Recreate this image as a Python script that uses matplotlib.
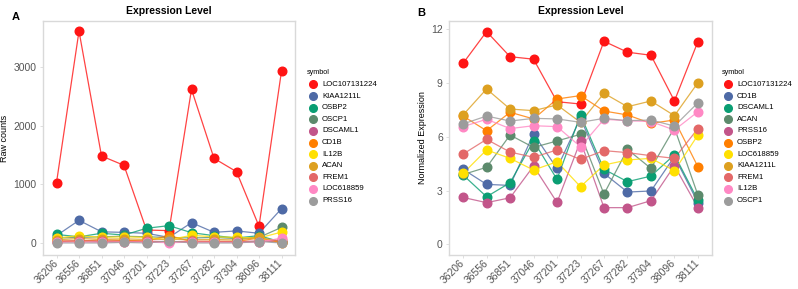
import matplotlib
matplotlib.use("Agg")
import matplotlib.pyplot as plt
import matplotlib.transforms as mtransforms
from matplotlib.lines import Line2D

plt.rcParams['font.family'] = ['Liberation Sans', 'DejaVu Sans']

# sample ids on the x axis (same for both panels)
samples = ["36206", "36556", "36851", "37046", "37201", "37223",
           "37267", "37282", "37304", "38096", "38111"]

# shared colour order used by both legends
palette = ["#FF1414", "#4E6AA6", "#0A9E73", "#5C8A6C", "#C2558A", "#FF7F00",
           "#FFE000", "#DDA020", "#E36868", "#FF88C4", "#9C9C9C"]

# Panel A - raw counts
genes_a = ["LOC107131224", "KIAA1211L", "OSBP2", "OSCP1", "DSCAML1", "CD1B",
           "IL12B", "ACAN", "FREM1", "LOC618859", "PRSS16"]
loc107131224_a = [1030, 3605, 1483, 1324, 225, 215, 2615, 1443, 1216, 290, 2925]
kiaa1211l_a = [130, 390, 195, 185, 170, 100, 350, 186, 210, 170, 588]
osbp2_a = [150, 110, 170, 140, 255, 300, 180, 130, 90, 130, 20]
oscp1_a = [90, 100, 110, 120, 110, 100, 90, 100, 80, 100, 270]
dscaml1_a = [30, 40, 35, 45, 30, 30, 25, 30, 25, 40, 20]
cd1b_a = [40, 35, 60, 50, 40, 130, 30, 35, 30, 90, 10]
il12b_a = [90, 130, 100, 110, 100, 60, 135, 110, 100, 90, 190]
acan_a = [60, 80, 70, 75, 65, 70, 60, 65, 55, 100, 30]
frem1_a = [30, 45, 35, 30, 35, 25, 35, 30, 30, 30, 60]
loc618859_a = [15, 20, 15, 20, 20, 10, 20, 15, 15, 15, 90]
prss16_a = [5, 5, 5, 15, 5, 40, 5, 5, 5, 30, 5]
values_a = [loc107131224_a, kiaa1211l_a, osbp2_a, oscp1_a, dscaml1_a, cd1b_a,
            il12b_a, acan_a, frem1_a, loc618859_a, prss16_a]

# Panel B - normalized expression
genes_b = ["LOC107131224", "CD1B", "DSCAML1", "ACAN", "PRSS16", "OSBP2",
           "LOC618859", "KIAA1211L", "FREM1", "IL12B", "OSCP1"]
loc107131224_b = [10.10, 11.87, 10.47, 10.33, 7.96, 7.83, 11.33, 10.72, 10.55, 8.00, 11.31]
cd1b_b = [4.19, 3.35, 3.29, 6.16, 4.24, 7.05, 3.96, 2.92, 2.98, 4.90, 2.33]
dscaml1_b = [3.87, 2.66, 3.44, 5.77, 3.63, 7.22, 4.19, 3.50, 3.81, 5.00, 2.47]
acan_b = [3.90, 4.30, 6.10, 5.41, 5.77, 6.14, 2.81, 5.30, 4.24, 6.50, 2.75]
prss16_b = [2.62, 2.33, 2.60, 4.37, 2.34, 5.77, 2.05, 2.05, 2.44, 4.39, 2.05]
osbp2_b = [7.16, 6.34, 7.37, 7.00, 8.11, 8.30, 7.44, 7.22, 6.75, 6.94, 4.33]
loc618859_b = [3.96, 5.27, 4.80, 4.15, 4.61, 3.22, 4.43, 4.71, 4.80, 4.11, 6.10]
kiaa1211l_b = [7.22, 8.67, 7.55, 7.46, 7.78, 6.81, 8.43, 7.68, 8.00, 7.18, 9.02]
frem1_b = [5.04, 5.86, 5.15, 4.86, 5.27, 4.74, 5.23, 5.12, 4.95, 4.80, 6.46]
il12b_b = [6.57, 6.98, 6.46, 6.62, 6.57, 5.45, 6.98, 6.90, 6.85, 6.38, 7.40]
oscp1_b = [6.72, 7.16, 6.88, 7.03, 7.00, 6.81, 7.03, 6.90, 6.94, 6.60, 7.90]
values_b = [loc107131224_b, cd1b_b, dscaml1_b, acan_b, prss16_b, osbp2_b,
            loc618859_b, kiaa1211l_b, frem1_b, il12b_b, oscp1_b]

tick_grey = "#555555"
frame_grey = "#D9D9D9"


def draw_panel(ax, genes, values, ylabel, ylim, yticks):
    """Draws one line/point panel in a ggplot-like light style."""
    x = list(range(len(samples)))
    for gene, vals, col in zip(genes, values, palette):
        ax.plot(x, vals, color=col, lw=0.9, alpha=0.8, zorder=2)
        ax.plot(x, vals, ls="none", marker="o", ms=6.2, color=col, zorder=3)
    ax.set_xlim(-0.6, len(samples) - 0.4)
    ax.set_ylim(*ylim)
    ax.set_yticks(yticks)
    ax.set_xticks(x)
    ax.set_xticklabels(samples, rotation=45, ha="right", va="center",
                       rotation_mode="anchor")
    # nudge the rotated labels a little to the right, like ggplot's hjust=1
    shift = mtransforms.ScaledTranslation(0.08, -0.02, ax.figure.dpi_scale_trans)
    for lab in ax.get_xticklabels():
        lab.set_transform(lab.get_transform() + shift)
    ax.tick_params(colors=frame_grey, labelcolor=tick_grey, labelsize=7.5,
                   length=2.5, width=0.6, pad=2)
    for sp in ax.spines.values():
        sp.set_color(frame_grey)
        sp.set_linewidth(1.0)
    ax.set_ylabel(ylabel, fontsize=6.5, labelpad=3)
    ax.set_title("Expression Level", fontsize=7.5, fontweight="bold", pad=5)


def draw_legend(fig, genes, x_marker, x_text, y_title):
    """Places a vertical 'symbol' legend using figure pixel positions."""
    W, H = 798, 289
    fig.text(x_marker / W - 0.008, 1 - y_title / H, "symbol", fontsize=5.2,
             va="center", ha="left")
    for i, (gene, col) in enumerate(zip(genes, palette)):
        y = 1 - (84.5 + i * 11.6) / H
        fig.add_artist(Line2D([x_marker / W], [y], marker="o", ms=5.5,
                              color=col, ls="none", transform=fig.transFigure))
        fig.text(x_text / W, y, gene, fontsize=5.6, va="center", ha="left")


fig = plt.figure(figsize=(7.98, 2.89), dpi=100)

# axes positions in pixels converted to figure fractions
ax_a = fig.add_axes([43 / 798, 34 / 289, 252 / 798, 234 / 289])
ax_b = fig.add_axes([449 / 798, 34 / 289, 263 / 798, 234 / 289])

draw_panel(ax_a, genes_a, values_a, "Raw counts", (-199, 3776), [0, 1000, 2000, 3000])
draw_panel(ax_b, genes_b, values_b, "Normalized Expression", (-0.59, 12.46), [0, 3, 6, 9, 12])

draw_legend(fig, genes_a, 313, 322, 73)
draw_legend(fig, genes_b, 728, 737, 73)

fig.text(16 / 798, 1 - 17 / 289, "A", fontsize=8, fontweight="bold", ha="center", va="center")
fig.text(421 / 798, 1 - 13 / 289, "B", fontsize=8, fontweight="bold", ha="center", va="center")

fig.savefig("out.png", dpi=100)
